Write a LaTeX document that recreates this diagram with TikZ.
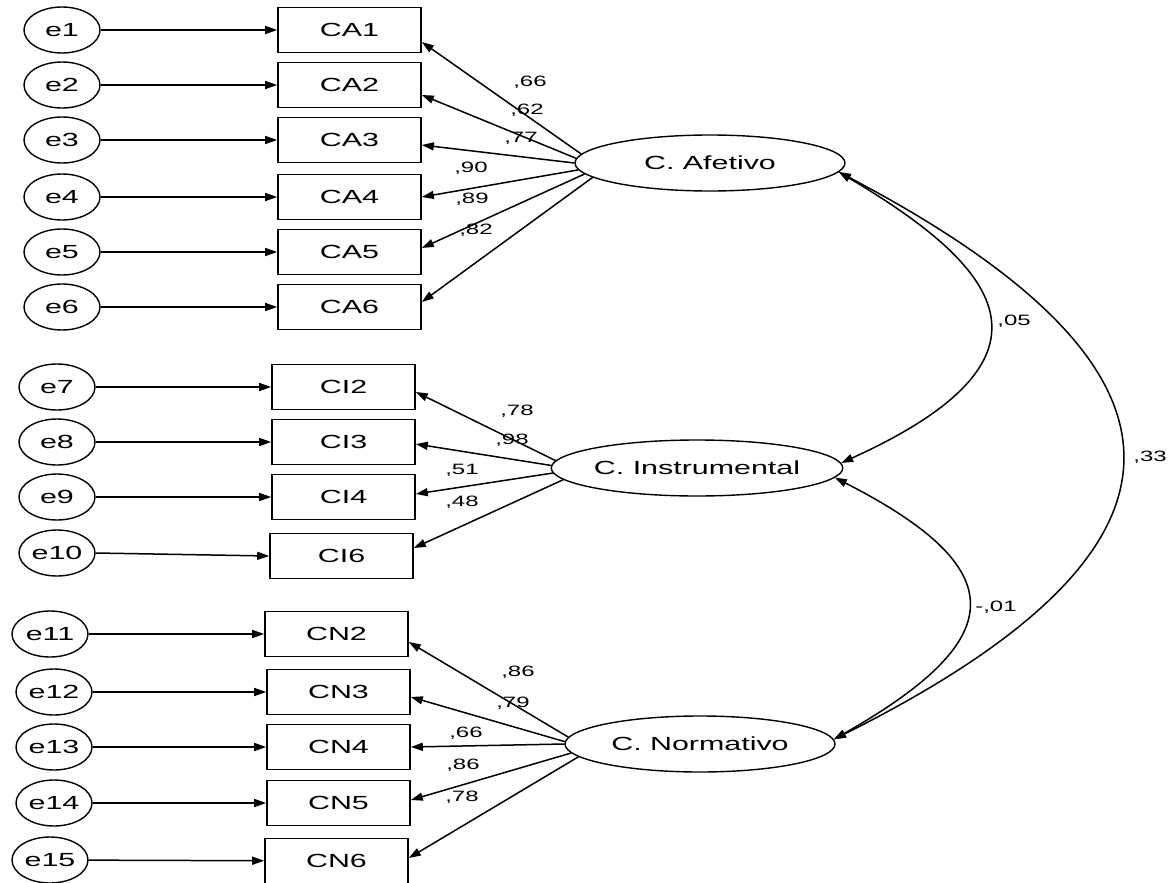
\documentclass[tikz,border=0pt]{standalone}
\usepackage{fontspec}
\setmainfont{Liberation Sans}[FakeStretch=1.6]
\usetikzlibrary{arrows.meta,calc,shapes.geometric}
\begin{document}
\begin{tikzpicture}[x=1pt,y=-1pt,
  every node/.style={inner sep=0pt},
  lbl/.style={font=\fontsize{19}{21}\selectfont},
  obs/.style={lbl,draw,line width=1.6pt,minimum width=143pt,minimum height=45pt},
  err/.style={lbl,draw,ellipse,line width=1.4pt,minimum width=76pt,minimum height=46pt},
  lat/.style={lbl,draw,ellipse,line width=1.4pt,minimum width=270pt,minimum height=56pt},
  val/.style={font=\fontsize{15}{17}\selectfont},
  tip/.tip={Triangle[length=12pt,width=8pt]},
  path/.style={line width=1.5pt,-tip},
  cov/.style={line width=1.5pt,tip-tip}
]
\useasboundingbox (0,0) rectangle (1170,883);

% ---------- C. Afetivo block ----------
\foreach \i/\y in {1/30,2/85,3/140,4/197,5/252,6/307}{
  \node[err] (e\i) at (62,\y) {e\i};
  \node[obs] (CA\i) at (349.5,\y) {CA\i};
  \draw[path] (e\i) -- (CA\i);
}
\node[lat] (afe) at (710,163) {C. Afetivo};
\foreach \i/\a/\d in {1/176/12,2/178/10,3/180/5,4/183/0,5/185/-4,6/187/-5}{
  \draw[path] (afe.\a) -- ($(CA\i.east)+(0,\d)$);
}
\node[val] (l1) at (530,82) {,66};
\node[val] (l2) at (527,110) {,62};
\node[val] (l3) at (521,138) {,77};
\node[val] (l4) at (471,168) {,90};
\node[val] (l5) at (472,199) {,89};
\node[val] (l6) at (476,230) {,82};

% ---------- C. Instrumental block ----------
\node[err] (e7) at (57,387) {e7};
\node[err] (e8) at (57,442) {e8};
\node[err] (e9) at (57,497) {e9};
\node[err] (e10) at (57,553) {e10};
\node[obs] (CI2) at (343.5,387) {CI2};
\node[obs] (CI3) at (343.5,442) {CI3};
\node[obs] (CI4) at (343.5,497) {CI4};
\node[obs] (CI6) at (341.5,556) {CI6};
\draw[path] (e7) -- (CI2);
\draw[path] (e8) -- (CI3);
\draw[path] (e9) -- (CI4);
\draw[path] (e10.east) -- (CI6.west);
\node[lat] (ins) at (697,468) {C. Instrumental};
\draw[path] (ins.177) -- ($(CI2.east)+(0,5)$);
\draw[path] (ins.179) -- ($(CI3.east)+(0,2)$);
\draw[path] (ins.182) -- ($(CI4.east)+(0,-3)$);
\draw[path] (ins.185) -- ($(CI6.east)+(0,-8)$);
\node[val] (l7) at (517,411) {,78};
\node[val] (l8) at (512,440) {,98};
\node[val] (l9) at (462,470) {,51};
\node[val] (l10) at (462,502) {,48};

% ---------- C. Normativo block ----------
\node[err] (e11) at (50,634) {e11};
\node[err] (e12) at (54,692) {e12};
\node[err] (e13) at (54,747) {e13};
\node[err] (e14) at (54,803) {e14};
\node[err] (e15) at (50,860) {e15};
\node[obs] (CN2) at (336.5,634) {CN2};
\node[obs] (CN3) at (338.5,692) {CN3};
\node[obs] (CN4) at (338.5,747) {CN4};
\node[obs] (CN5) at (338.5,803) {CN5};
\node[obs] (CN6) at (336.5,861) {CN6};
\draw[path] (e11) -- (CN2);
\draw[path] (e12) -- (CN3);
\draw[path] (e13) -- (CN4);
\draw[path] (e14) -- (CN5);
\draw[path] (e15) -- (CN6);
\node[lat] (nor) at (700,744) {C. Normativo};
\draw[path] (nor.177) -- ($(CN2.east)+(0,8)$);
\draw[path] (nor.179) -- ($(CN3.east)+(0,5)$);
\draw[path] (nor.180) -- (CN4.east);
\draw[path] (nor.184) -- ($(CN5.east)+(0,-3)$);
\draw[path] (nor.186) -- ($(CN6.east)+(0,-3)$);
\node[val] (l11) at (518,672) {,86};
\node[val] (l12) at (513,703) {,79};
\node[val] (l13) at (466,733) {,66};
\node[val] (l14) at (463,765) {,86};
\node[val] (l15) at (462,797) {,78};

% ---------- covariances ----------
\draw[cov] (afe.-4) .. controls +(155,92) and +(238,-108) .. (ins.2);
\draw[cov] (ins.-4) .. controls +(180,92) and +(176,-100) .. (nor.2.5);
\draw[cov] (afe.-4) .. controls +(380,200) and +(380,-190) .. (nor.2.5);
\node[val] (c1) at (1014,321) {,05};
\node[val] (c2) at (996,607) {-,01};
\node[val] (c3) at (1150,457) {,33};
\end{tikzpicture}
\end{document}
